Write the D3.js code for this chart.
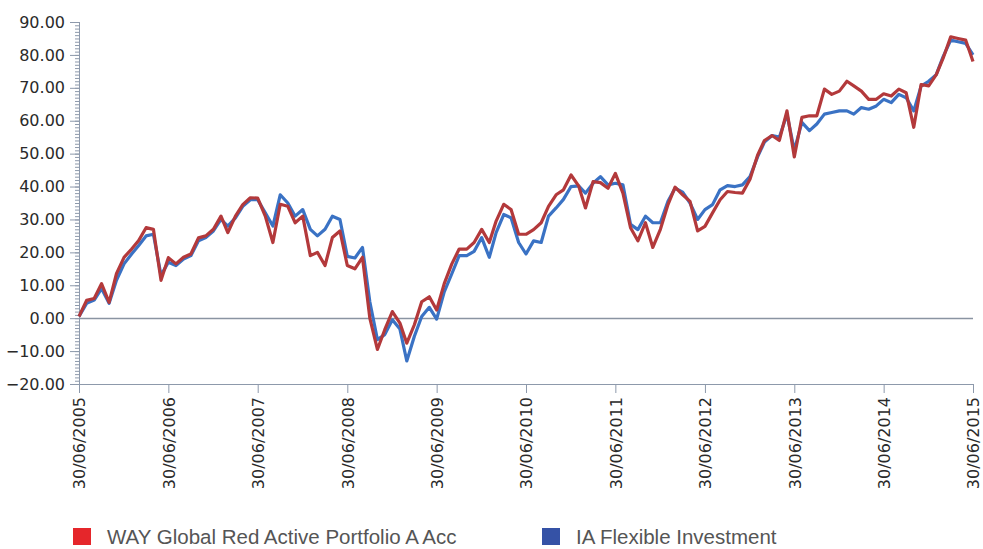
<!DOCTYPE html>
<meta charset="utf-8">
<style>
body { margin: 0; background: #fff; }
.axis text { font-family: "DejaVu Sans", Verdana, sans-serif; font-size: 16px; fill: #2a2a2a; }
.axis path, .axis line { stroke: #8d99ab; }
.legend text { font-family: "Liberation Sans", Arial, sans-serif; font-size: 20.5px; fill: #555; }
</style>
<body>
<svg width="983" height="549"></svg>
<script src="https://d3js.org/d3.v7.min.js"></script>
<script>

// monthly month-end values (% growth) from 30/06/2005 to 30/06/2015
var startMonth = "2005-06";

var wayRed = [
  0.5, 5.4, 6.0, 10.5, 4.8, 13.5, 18.5, 21, 23.5, 27.5, 27, 11.5,
  18.4, 16.5, 18.5, 19.5, 24.4, 25, 27, 31, 26, 31, 34.5, 36.6,
  36.5, 31, 23, 34.6, 34, 29, 31, 19, 20, 16, 24.5, 26.5,
  16, 15, 18.5, 0, -9.5, -3.5, 2, -1.5, -7.6, -2, 5, 6.5,
  2.5, 10.5, 16.5, 21, 21, 23, 27, 23, 29.5, 34.6, 33, 25.5,
  25.5, 26.9, 29, 34, 37.5, 39, 43.5, 40.2, 33.5, 41.5, 41.2, 39.5,
  44, 38, 27.5, 23.5, 29, 21.5, 27, 34.5, 39.8, 37.5, 35.5, 26.5,
  27.9, 32, 36, 38.5, 38.2, 38, 42.2, 49.5, 54, 55.5, 54, 63,
  49, 61, 61.5, 61.5, 69.6, 68, 69, 72, 70.6, 69, 66.5, 66.5,
  68.2, 67.5, 69.6, 68.5, 58, 71, 70.6, 74, 79, 85.5, 85, 84.5,
  78
];

var iaFlex = [
  0.5, 4.5, 5.5, 9, 4.5, 11.5, 16.5, 19.5, 22, 25, 25.5, 13,
  17, 16, 18, 19, 23.5, 24.5, 26.5, 30, 28, 30.5, 34, 36,
  36, 32, 28, 37.5, 35, 31, 33, 27, 25, 27, 31, 30,
  18.8, 18.3, 21.5, 5, -6.5, -5, -0.5, -3.3, -13, -5.5, 0.5, 3.3,
  -0.3, 8, 13.5, 19, 19, 20.3, 24.5, 18.5, 26, 31.5, 30.5, 23,
  19.5, 23.5, 23, 31, 33.5, 36.1, 40, 40.2, 38, 41, 43, 40.5,
  41, 40.5, 28.5, 26.9, 31, 29, 29, 35.5, 39.5, 38.3, 35, 30,
  33, 34.5, 39, 40.3, 40, 40.5, 43, 49, 53.5, 55.5, 55, 62,
  51, 59.5, 57, 59, 62, 62.5, 63, 63, 62, 64, 63.5, 64.5,
  66.5, 65.5, 68, 67, 63, 70.5, 72, 74, 79.5, 84.5, 84, 83.5,
  80
];

var xTickLabels = ["30/06/2005", "30/06/2006", "30/06/2007", "30/06/2008", "30/06/2009",
  "30/06/2010", "30/06/2011", "30/06/2012", "30/06/2013", "30/06/2014", "30/06/2015"];
var yTicks = [-20, -10, 0, 10, 20, 30, 40, 50, 60, 70, 80, 90];

var seriesNames = ["WAY Global Red Active Portfolio A Acc", "IA Flexible Investment"];
var lineColors = ["#b3393b", "#3a72c4"];
var keyColors = ["#e5262b", "#3552a6"];

var svg = d3.select("svg");
var margin = {left: 79, right: 10, top: 22, bottom: 165};
var width = 983 - margin.left - margin.right,
    height = 549 - margin.top - margin.bottom;

var parseDay = d3.timeParse("%d/%m/%Y");
var m0 = d3.timeParse("%Y-%m")(startMonth);
// last day of each month
var dates = wayRed.map(function(d, i) {
  return d3.timeDay.offset(d3.timeMonth.offset(m0, i + 1), -1);
});

var x = d3.scaleTime()
    .domain([parseDay(xTickLabels[0]), parseDay(xTickLabels[xTickLabels.length - 1])])
    .range([0, width]);
var y = d3.scaleLinear()
    .domain([d3.min(yTicks), d3.max(yTicks)])
    .range([height, 0]);

var g = svg.append("g").attr("transform", "translate(" + margin.left + "," + margin.top + ")");

// minor ticks on the y axis
g.append("g")
    .attr("class", "axis")
    .call(d3.axisLeft(y).tickValues(d3.range(-20, 91, 1)).tickSize(4).tickFormat(""))
    .call(function(a) { a.select(".domain").remove(); });

g.append("g")
    .attr("class", "axis")
    .call(d3.axisLeft(y).tickValues(yTicks).tickSize(9).tickPadding(5).tickFormat(d3.format(".2f")))
    .call(function(a) { a.select(".domain").attr("d", "M0.5," + height + "V0"); });

// zero line
g.append("line")
    .attr("x1", 0).attr("x2", width)
    .attr("y1", Math.round(y(0)) + 0.5).attr("y2", Math.round(y(0)) + 0.5)
    .attr("stroke", "#8a94a2")
    .attr("stroke-width", 1.3);

var xAxis = g.append("g")
    .attr("class", "axis")
    .attr("transform", "translate(0," + height + ")")
    .call(d3.axisBottom(x)
      .tickValues(xTickLabels.map(parseDay))
      .tickSize(9)
      .tickSizeOuter(0)
      .tickFormat(function(d, i) { return xTickLabels[i]; }));

xAxis.selectAll("text")
    .attr("transform", "rotate(-90)")
    .attr("x", -13)
    .attr("y", 0)
    .attr("dy", "0.36em")
    .style("text-anchor", "end");

var line = d3.line()
    .x(function(d, i) { return x(dates[i]); })
    .y(function(d) { return y(d); });

// blue underneath, red on top
[iaFlex, wayRed].forEach(function(s, j) {
  g.append("path")
      .datum(s)
      .attr("fill", "none")
      .attr("stroke", lineColors[1 - j])
      .attr("stroke-width", 3.2)
      .attr("stroke-linejoin", "round")
      .attr("d", line);
});

var legend = svg.append("g").attr("class", "legend");
var legX = [73, 542];
seriesNames.forEach(function(name, i) {
  var lg = legend.append("g").attr("transform", "translate(" + legX[i] + ",528)");
  lg.append("rect").attr("width", 18).attr("height", 17).attr("fill", keyColors[i]);
  lg.append("text").attr("x", 34).attr("y", 15.5).text(name);
});

</script>
</body>
